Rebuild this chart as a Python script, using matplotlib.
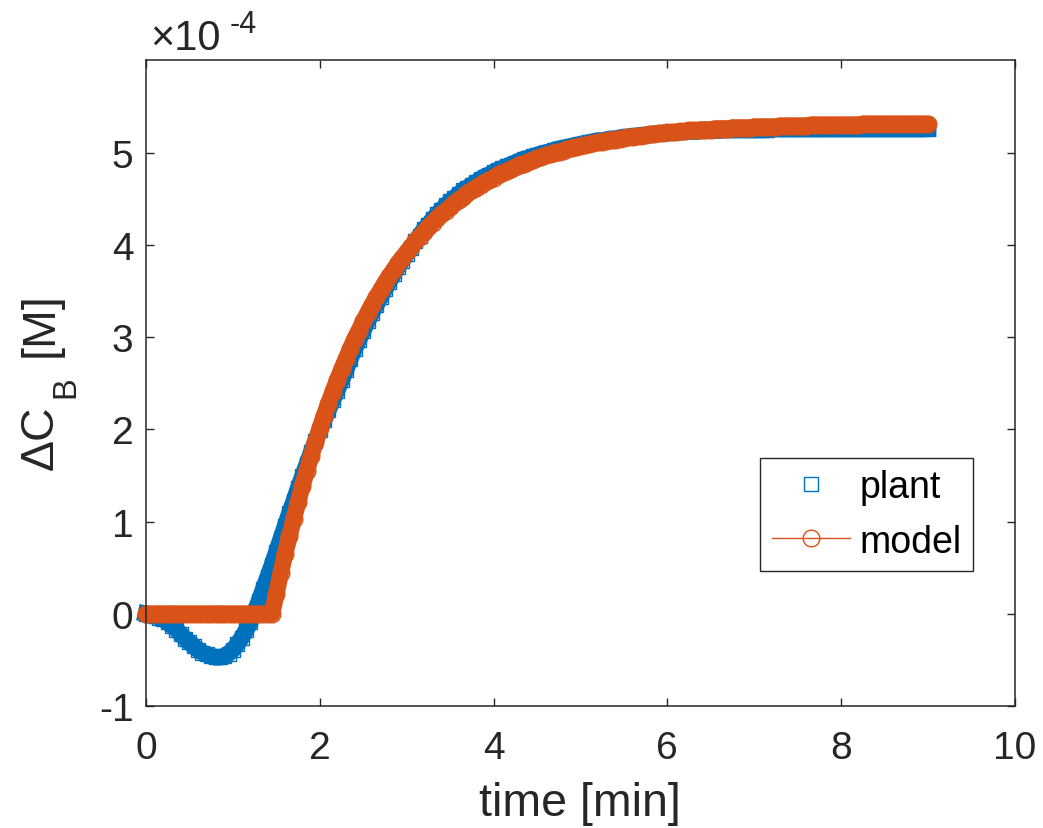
"""Plant vs model step response of Delta C_B (values in units of 1e-4 M)."""

import matplotlib

matplotlib.use("Agg")
import matplotlib.pyplot as plt
import numpy as np

plt.rcParams["font.family"] = ["Liberation Sans", "DejaVu Sans"]
plt.rcParams["axes.unicode_minus"] = False

# sampling grid, 0..9 min every 0.05 min
time_min = np.linspace(0.0, 9.0, 181)

# plant response (x 1e-4 M)
plant = [
    0.00, -0.01, -0.02, -0.04, -0.06, -0.09, -0.13, -0.17, -0.22, -0.27,
    -0.31, -0.35, -0.39, -0.42, -0.44, -0.46, -0.47, -0.47, -0.46, -0.43,
    -0.39, -0.33, -0.26, -0.18, -0.09, 0.02, 0.14, 0.27, 0.40, 0.53,
    0.67, 0.81, 0.95, 1.09, 1.22, 1.36, 1.49, 1.62, 1.75, 1.87,
    1.99, 2.10, 2.21, 2.32, 2.42, 2.53, 2.64, 2.76, 2.87, 2.97,
    3.07, 3.17, 3.26, 3.35, 3.43, 3.52, 3.60, 3.68, 3.76, 3.83,
    3.90, 3.97, 4.04, 4.10, 4.17, 4.22, 4.28, 4.33, 4.38, 4.43,
    4.47, 4.51, 4.55, 4.59, 4.62, 4.65, 4.68, 4.71, 4.74, 4.76,
    4.79, 4.81, 4.83, 4.85, 4.87, 4.89, 4.91, 4.93, 4.94, 4.96,
    4.97, 4.99, 5.00, 5.01, 5.03, 5.04, 5.05, 5.06, 5.07, 5.08,
    5.09, 5.10, 5.11, 5.12, 5.13, 5.13, 5.14, 5.15, 5.15, 5.16,
    5.17, 5.17, 5.18, 5.18, 5.19, 5.19, 5.20, 5.20, 5.21, 5.21,
    5.21, 5.22, 5.22, 5.22, 5.23, 5.23, 5.23, 5.23, 5.24, 5.24,
    5.24, 5.24, 5.24, 5.25, 5.25, 5.25, 5.25, 5.25, 5.25, 5.25,
    5.25, 5.25, 5.25, 5.25, 5.26, 5.26, 5.26, 5.26, 5.26, 5.26,
    5.26, 5.26, 5.26, 5.26, 5.26, 5.26, 5.26, 5.26, 5.26, 5.26,
    5.26, 5.26, 5.26, 5.26, 5.26, 5.26, 5.26, 5.26, 5.26, 5.26,
    5.26, 5.26, 5.26, 5.26, 5.26, 5.26, 5.26, 5.26, 5.26, 5.26,
    5.26,
]

# model response (x 1e-4 M), dead time then first-order-looking rise
model = [
    0.00, 0.00, 0.00, 0.00, 0.00, 0.00, 0.00, 0.00, 0.00, 0.00,
    0.00, 0.00, 0.00, 0.00, 0.00, 0.00, 0.00, 0.00, 0.00, 0.00,
    0.00, 0.00, 0.00, 0.00, 0.00, 0.00, 0.00, 0.00, 0.00, 0.00,
    0.22, 0.44, 0.65, 0.84, 1.03, 1.21, 1.39, 1.55, 1.71, 1.86,
    2.01, 2.15, 2.28, 2.41, 2.53, 2.65, 2.76, 2.87, 2.98, 3.07,
    3.17, 3.26, 3.35, 3.43, 3.51, 3.59, 3.66, 3.73, 3.80, 3.86,
    3.92, 3.98, 4.04, 4.09, 4.14, 4.19, 4.24, 4.29, 4.33, 4.37,
    4.41, 4.45, 4.49, 4.52, 4.56, 4.59, 4.62, 4.65, 4.68, 4.70,
    4.73, 4.76, 4.78, 4.80, 4.82, 4.84, 4.87, 4.88, 4.90, 4.92,
    4.94, 4.95, 4.97, 4.98, 5.00, 5.01, 5.02, 5.04, 5.05, 5.06,
    5.07, 5.08, 5.09, 5.10, 5.11, 5.12, 5.13, 5.14, 5.14, 5.15,
    5.16, 5.17, 5.17, 5.18, 5.18, 5.19, 5.20, 5.20, 5.21, 5.21,
    5.22, 5.22, 5.22, 5.23, 5.23, 5.24, 5.24, 5.24, 5.25, 5.25,
    5.25, 5.26, 5.26, 5.26, 5.26, 5.27, 5.27, 5.27, 5.27, 5.27,
    5.28, 5.28, 5.28, 5.28, 5.28, 5.28, 5.29, 5.29, 5.29, 5.29,
    5.29, 5.29, 5.29, 5.30, 5.30, 5.30, 5.30, 5.30, 5.30, 5.30,
    5.30, 5.30, 5.30, 5.30, 5.30, 5.31, 5.31, 5.31, 5.31, 5.31,
    5.31, 5.31, 5.31, 5.31, 5.31, 5.31, 5.31, 5.31, 5.31, 5.31,
    5.31,
]

x_ticks = [0, 2, 4, 6, 8, 10]
y_ticks = [-1, 0, 1, 2, 3, 4, 5]

BLUE = "#0072BD"
ORANGE = "#D95319"
INK = "#262626"
W, H = 1043, 829

fig = plt.figure(figsize=(W / 100, H / 100), dpi=100)
ax = fig.add_axes([0.140, 0.147, 0.833, 0.779])

# the original has so many overlapping markers that each series reads as a
# solid band; draw that band as a thick stroke, then the markers on top
ax.plot(time_min, plant, "-", color=BLUE, lw=12, solid_capstyle="projecting",
        solid_joinstyle="round", clip_on=False)
ax.plot(time_min, plant, linestyle="none", marker="s", ms=9.5, mfc="none",
        mec=BLUE, mew=1.0, label="plant", clip_on=False)
ax.plot(time_min, model, "-", color=ORANGE, lw=12, solid_capstyle="round",
        solid_joinstyle="round", clip_on=False)
ax.plot(time_min, model, "-", marker="o", ms=12, mfc="none", mec=ORANGE,
        mew=1.0, color=ORANGE, lw=1.0, label="model", clip_on=False)

ax.set_xlim(0, 10)
ax.set_ylim(-1, 6)
ax.set_xticks(x_ticks)
ax.set_yticks(y_ticks)
ax.tick_params(direction="in", top=True, right=True, length=6, width=1.0,
               labelsize=28, colors=INK)
ax.tick_params(axis="x", pad=17)
ax.tick_params(axis="y", pad=9)
for s in ax.spines.values():
    s.set_linewidth(1.1)
    s.set_color(INK)

ax.set_xlabel("time [min]", fontsize=33.5, color=INK, labelpad=11)

# y label built in pieces so the subscript B drops as far as in the original
ylab = dict(rotation=90, rotation_mode="anchor", ha="left", va="baseline", color=INK)
fig.text(53 / W, 1 - 470 / H, "ΔC", fontsize=33.5, **ylab)
fig.text(74 / W, 1 - 398 / H, "B", fontsize=23.5, **ylab)
fig.text(53 / W, 1 - 357 / H, "[M]", fontsize=33.5, **ylab)

fig.text(0.144, 0.94, "×10", fontsize=30, color=INK)
fig.text(0.220, 0.960, "-4", fontsize=22, color=INK)

leg = ax.legend(loc="upper right", bbox_to_anchor=(0.952, 0.385), fontsize=27,
                frameon=True, fancybox=False, framealpha=1, edgecolor=INK,
                borderaxespad=0, handlelength=2.1, handletextpad=0.25,
                labelspacing=0.5, borderpad=0.3, numpoints=1)
leg.get_frame().set_linewidth(1.0)
for t in leg.get_texts():
    t.set_color("black")

fig.savefig("out.png", dpi=100)
